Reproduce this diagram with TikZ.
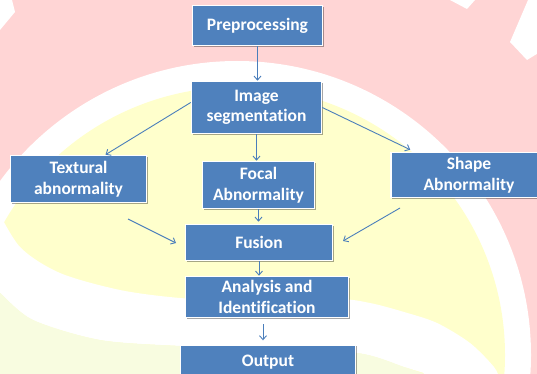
\documentclass[tikz,border=0pt]{standalone}
\usepackage{fontspec}
\setmainfont{Carlito}[Ligatures=NoCommon]
\usetikzlibrary{arrows.meta,shadows,calc}
\definecolor{bgpink}{HTML}{FFD5D5}
\definecolor{bgyellow}{HTML}{FFFFCC}
\definecolor{bggreen}{HTML}{F8FCE0}
\definecolor{boxblue}{HTML}{4F81BD}
\definecolor{arrblue}{HTML}{4A7EBB}
\begin{document}
\begin{tikzpicture}[x=1pt,y=-1pt,
  box/.style={rectangle, draw=white, line width=1.6pt, fill=boxblue, text=white,
    font=\fontsize{17.5}{20.5}\selectfont\bfseries, align=center, inner sep=0pt,
    drop shadow={shadow xshift=1pt, shadow yshift=-1.2pt, opacity=0.35, fill=black}},
  conn/.style={draw=arrblue, line width=0.9pt, -{Straight Barb[length=4pt,width=7pt]}}]
\useasboundingbox (0,0) rectangle (537,374);
\clip (0,0) rectangle (537,374);
% background
\fill[bgpink] (0,0) rectangle (537,374);
\fill[white] (0,0) -- (12,0) -- (15,12) -- (0,30) -- cycle;
\fill[white] (450,0) -- (475,0) -- (467,9) -- cycle;
\fill[white] (528,0) -- (540,0) -- (540,52) -- (527,60) -- (510,42) -- cycle;
\fill[white] (237,355) circle[radius=294pt];
\fill[bgyellow] (237,355) circle[radius=268pt];
\fill[white] plot[smooth] coordinates {(-5,205) (20,247) (60,273) (120,290) (180,298) (250,301) (337,299) (370,303) (404,312) (437,323) (470,343) (494,367) (500,380)}
  -- (420,380) -- plot[smooth] coordinates {(424,373) (404,367) (357,353) (260,349) (180,346) (100,340) (33,320) (0,293) (-5,290)} -- cycle;
\fill[bggreen] plot[smooth] coordinates {(424,374) (404,367) (357,353) (260,349) (180,346) (100,340) (33,320) (0,293) (-5,290)} -- (-5,380) -- (424,380) -- cycle;
% nodes
\node[box, minimum width=130pt, minimum height=40pt] (pre) at (257.5,25.5) {Preprocessing};
\node[box, minimum width=130pt, minimum height=52pt] (seg) at (256.5,107.5) {Image\\segmentation};
\node[box, minimum width=136pt, minimum height=47pt] (tex) at (78.5,179) {Textural\\abnormality};
\node[box, minimum width=112pt, minimum height=47pt] (foc) at (258.5,185) {Focal\\Abnormality};
\node[box, minimum width=156pt, minimum height=45pt] (shp) at (469,175) {Shape\\Abnormality};
\node[box, minimum width=147pt, minimum height=36pt] (fus) at (259,242.5) {Fusion};
\node[box, minimum width=163pt, minimum height=41pt] (ana) at (267,297) {Analysis and\\Identification};
\node[box, minimum width=175pt, minimum height=34pt] (out) at (268,362) {Output};
% connectors
\coordinate (t1) at (128,219);
\coordinate (t2) at (176,243);
\coordinate (s1) at (400,208);
\coordinate (s2) at (343,241);
\draw[conn] (pre.south) -- (pre.south |- seg.north);
\draw[conn] ($(seg.west)+(0,-5)$) -- ($(tex.north)+(27,0)$);
\draw[conn] (seg.south) -- (seg.south |- foc.north);
\draw[conn] (seg.east) -- ($(shp.north west)+(20,-2)$);
\draw[conn] (t1) -- (t2);
\draw[conn] (s1) -- (s2);
\draw[conn] (foc.south) -- ($(foc.south |- fus.north)+(0,-2)$);
\draw[conn] (fus.south) -- (fus.south |- ana.north);
\draw[conn] ($(ana.south)+(-4,6)$) -- ($(ana.south)+(-4,22)$);
\end{tikzpicture}
\end{document}
